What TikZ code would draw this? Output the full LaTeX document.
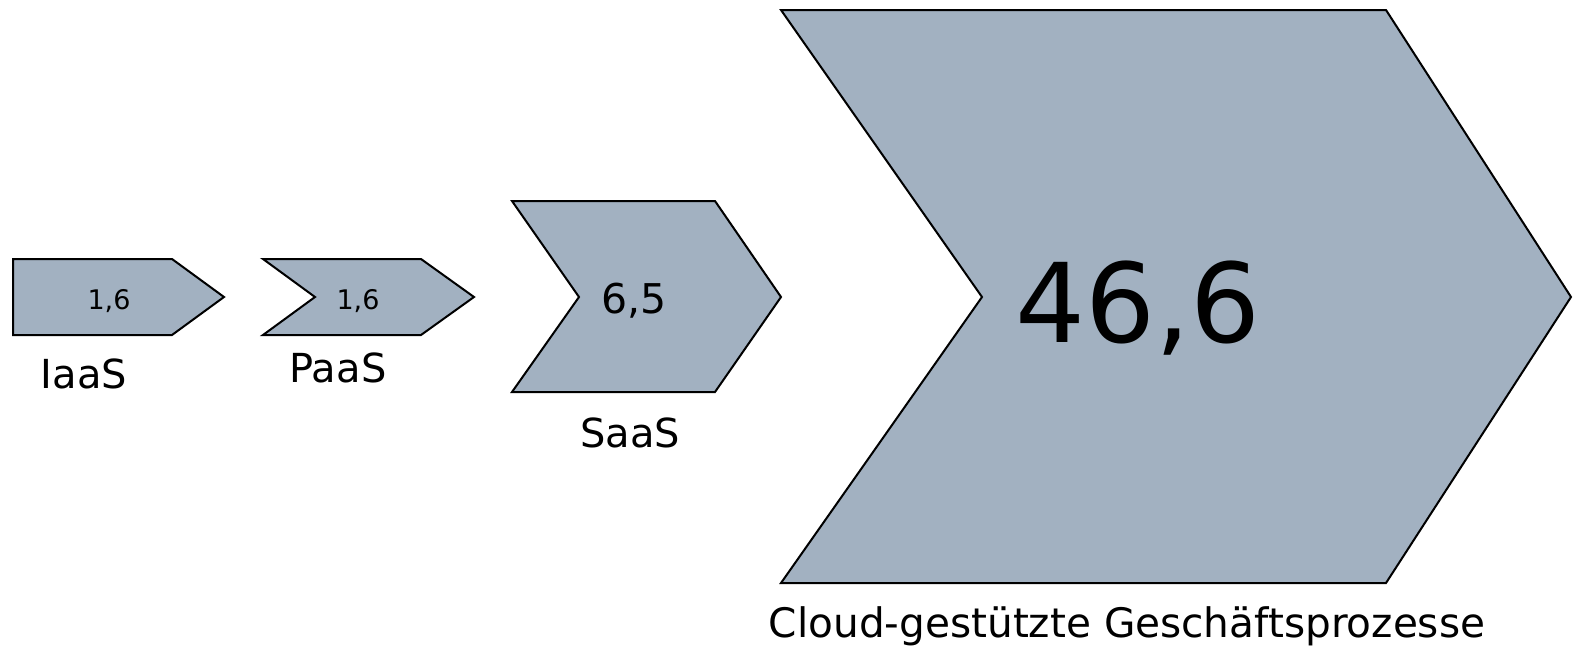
\documentclass[tikz,border=0pt]{standalone}
\usepackage{fontspec}
\setmainfont{DejaVu Sans}
\definecolor{chevfill}{HTML}{A2B1C1}
\tikzset{
  chev/.style={draw=black, fill=chevfill, line width=2pt, line join=miter},
  lbl/.style={anchor=base, inner sep=0pt, text=black},
}
\newcommand{\fsz}[1]{\fontsize{#1}{#1}\selectfont}
\begin{document}
\begin{tikzpicture}[x=1pt, y=-1pt]
  \useasboundingbox (0,0) rectangle (1574,648);
  % IaaS: pentagon arrow
  \draw[chev] (13,259) -- (172,259) -- (224,297) -- (172,335) -- (13,335) -- cycle;
  % PaaS: chevron
  \draw[chev] (263,259) -- (421,259) -- (474,297) -- (421,335) -- (263,335) -- (315,297) -- cycle;
  % SaaS: chevron
  \draw[chev] (512,201) -- (715,201) -- (781,297) -- (715,392) -- (512,392) -- (579,297) -- cycle;
  % Cloud-based business processes: large chevron
  \draw[chev] (781,10) -- (1386,10) -- (1571,297) -- (1386,583) -- (781,583) -- (982,297) -- cycle;

  \node[lbl, font=\fsz{27}] (v1) at (109,309) {1,6};
  \node[lbl, font=\fsz{27}] (v2) at (358,309) {1,6};
  \node[lbl, font=\fsz{41}] (v3) at (634,313) {6,5};
  \node[lbl, font=\fsz{110}] (v4) at (1138,342) {46,6};

  \node[lbl, font=\fsz{40}] (t1) at (84,388) {IaaS};
  \node[lbl, font=\fsz{40}] (t2) at (338,382) {PaaS};
  \node[lbl, font=\fsz{40}] (t3) at (630,447) {SaaS};
  \node[lbl, font=\fsz{40.6}] (t4) at (1127,637) {Cloud-gestützte Geschäftsprozesse};
\end{tikzpicture}
\end{document}
